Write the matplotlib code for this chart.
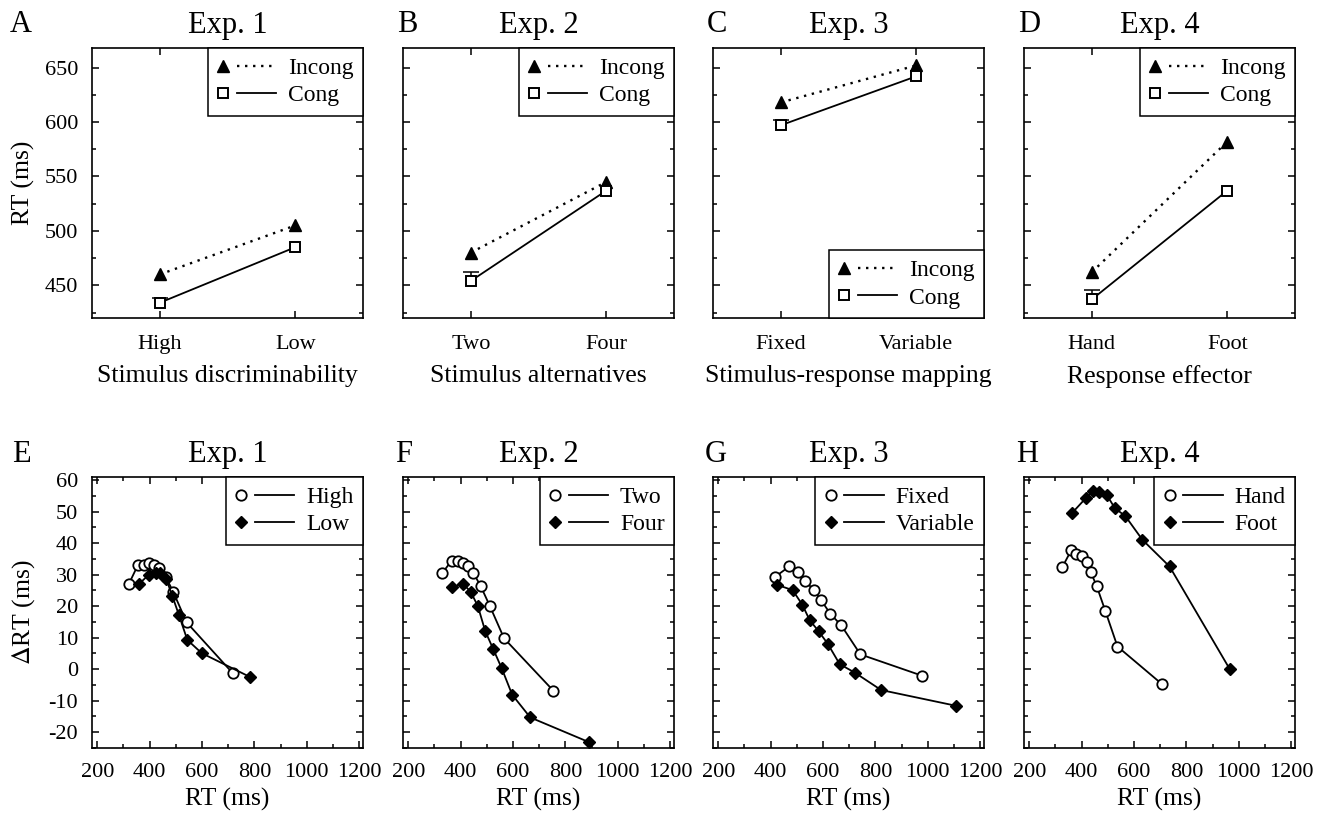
import numpy as np
import matplotlib
matplotlib.use("Agg")
import matplotlib.pyplot as plt
from matplotlib.lines import Line2D
from matplotlib.legend_handler import HandlerBase
from matplotlib.ticker import MultipleLocator

plt.rcParams['font.family'] = ['Liberation Serif', 'DejaVu Serif']
plt.rcParams['mathtext.fontset'] = 'stix'
plt.rcParams['axes.unicode_minus'] = False

# ---- top row: mean RT per condition ----
exps = ['Exp. 1', 'Exp. 2', 'Exp. 3', 'Exp. 4']
top_letters = ['A', 'B', 'C', 'D']
bot_letters = ['E', 'F', 'G', 'H']
levels = [['High', 'Low'], ['Two', 'Four'], ['Fixed', 'Variable'], ['Hand', 'Foot']]
factor_names = ['Stimulus discriminability', 'Stimulus alternatives',
                'Stimulus-response mapping', 'Response effector']
incong = [[460, 505], [480, 545], [618, 652], [462, 582]]
cong = [[434, 485], [454, 537], [597, 642], [437, 537]]
cong_err = [4, 8, 5, 9]   # upper error bar on first congruent point

# ---- bottom row: delta plots (RT quantile vs effect) ----
d1_rt = [[321, 355, 378, 396, 416, 436, 461, 490, 541, 718],
         [330, 366, 389, 408, 430, 449, 476, 512, 566, 754],
         [417, 471, 503, 533, 564, 593, 628, 670, 743, 980],
         [327, 360, 380, 401, 419, 435, 458, 491, 537, 708]]
d1_eff = [[27.1, 33.0, 33.2, 33.8, 33.0, 32.0, 29.4, 24.6, 14.9, -1.3],
          [30.5, 34.5, 34.5, 33.7, 32.9, 30.5, 26.5, 20.0, 9.8, -6.8],
          [29.3, 32.6, 30.8, 28.1, 25.1, 21.9, 17.6, 13.9, 4.7, -2.1],
          [32.5, 37.7, 36.5, 35.9, 34.0, 30.8, 26.3, 18.4, 7.2, -4.8]]
d2_rt = [[359, 397, 423, 440, 464, 487, 512, 544, 599, 782],
         [366, 410, 439, 466, 494, 524, 557, 597, 666, 892],
         [424, 484, 521, 549, 583, 618, 664, 722, 822, 1108],
         [365, 415, 442, 468, 497, 527, 567, 632, 736, 966]]
d2_eff = [[27.0, 30.0, 30.6, 30.5, 28.5, 23.2, 17.2, 9.3, 5.1, -2.4],
          [26.1, 27.1, 24.5, 20.0, 12.1, 6.5, 0.3, -8.1, -15.3, -23.2],
          [26.8, 25.1, 20.5, 15.6, 12.1, 8.1, 1.6, -1.1, -6.6, -11.6],
          [49.7, 54.2, 56.5, 56.2, 55.2, 51.1, 48.6, 41.1, 32.6, 0.0]]


class MarkerThenLine(HandlerBase):
    # legend handle: marker on the left, line segment to its right
    def create_artists(self, legend, orig_handle, xdescent, ydescent,
                       width, height, fontsize, trans):
        y = height / 2 - ydescent
        x0 = -xdescent
        mk = Line2D([x0 + 0.10 * width], [y])
        mk.update_from(orig_handle)
        mk.set_linestyle('none')
        ln = Line2D([x0 + 0.33 * width, x0 + width], [y, y])
        ln.update_from(orig_handle)
        ln.set_marker('')
        mk.set_transform(trans)
        ln.set_transform(trans)
        return [mk, ln]


W, H = 1322, 814
fig = plt.figure(figsize=(W / 100, H / 100), dpi=100)

lefts = [92, 403, 713, 1024]
aw = 271
top_y = (48, 318)
bot_y = (477, 748)


def px_axes(left, ytop, ybot):
    return fig.add_axes([left / W, 1 - ybot / H, aw / W, (ybot - ytop) / H])


def style(ax):
    for s in ax.spines.values():
        s.set_linewidth(1.2)
    ax.tick_params(which='both', direction='in', top=True, right=True,
                   width=1.1, labelsize=16, pad=10)
    ax.tick_params(which='major', length=5)
    ax.tick_params(which='minor', length=3)


dotted = (0, (1, 2.4))
leg_kw = dict(handler_map={Line2D: MarkerThenLine()}, fontsize=17,
              frameon=True, fancybox=False, edgecolor='black', framealpha=1,
              borderaxespad=0, handlelength=2.5, handletextpad=0.5,
              borderpad=0.4, labelspacing=0.25)

for i in range(4):
    ax = px_axes(lefts[i], *top_y)
    style(ax)
    x = np.arange(2)
    l1, = ax.plot(x, incong[i], linestyle=dotted, color='black', lw=1.7,
                  marker='^', ms=8.5, mfc='black', mec='black', zorder=3)
    l2, = ax.plot(x, cong[i], linestyle='-', color='black', lw=1.3,
                  marker='s', ms=7.5, mfc='white', mec='black', mew=1.4, zorder=3)
    e = cong_err[i]
    ax.vlines(x[0], cong[i][0], cong[i][0] + e, color='black', lw=1.1, zorder=2)
    ax.hlines(cong[i][0] + e, x[0] - 0.06, x[0] + 0.06, color='black', lw=1.1, zorder=2)
    ax.set_xlim(-0.5, 1.5)
    ax.set_ylim(420, 668)
    ax.set_xticks(x)
    ax.set_xticklabels(levels[i])
    ax.yaxis.set_major_locator(MultipleLocator(50))
    ax.yaxis.set_minor_locator(MultipleLocator(25))
    ax.tick_params(axis='x', pad=12)
    ax.set_xlabel(factor_names[i], fontsize=18.5, labelpad=8)
    if i == 0:
        ax.set_ylabel('RT (ms)', fontsize=18.5, labelpad=7)
    else:
        ax.set_yticklabels([])
    loc = 'lower right' if i == 2 else 'upper right'
    leg = ax.legend([l1, l2], ['Incong', 'Cong'], loc=loc, **leg_kw)
    leg.get_frame().set_linewidth(1.1)
    ax.set_title(exps[i], fontsize=22, pad=11)
    fig.text(lefts[i] / W - (82 if i == 0 else 6) / W, 1 - 32 / H, top_letters[i],
             fontsize=22, va='baseline', ha='left')

for i in range(4):
    ax = px_axes(lefts[i], *bot_y)
    style(ax)
    h1, = ax.plot(d1_rt[i], d1_eff[i], '-', color='black', lw=1.3,
                  marker='o', ms=7.5, mfc='white', mec='black', mew=1.3, zorder=3)
    h2, = ax.plot(d2_rt[i], d2_eff[i], '-', color='black', lw=1.3,
                  marker='D', ms=6, mfc='black', mec='black', zorder=3)
    ax.set_xlim(180, 1215)
    ax.set_ylim(-25, 61)
    ax.xaxis.set_major_locator(MultipleLocator(200))
    ax.xaxis.set_minor_locator(MultipleLocator(100))
    ax.yaxis.set_major_locator(MultipleLocator(10))
    ax.yaxis.set_minor_locator(MultipleLocator(5))
    ax.tick_params(axis='x', pad=11)
    ax.set_xlabel('RT (ms)', fontsize=18.5, labelpad=4)
    if i == 0:
        ax.set_ylabel(r'$\Delta$RT (ms)', fontsize=18.5, labelpad=8)
    else:
        ax.set_yticklabels([])
    leg = ax.legend([h1, h2], levels[i], loc='upper right', **leg_kw)
    leg.get_frame().set_linewidth(1.1)
    ax.set_title(exps[i], fontsize=22, pad=11)
    fig.text(lefts[i] / W - (80 if i == 0 else 8) / W, 1 - 462 / H, bot_letters[i],
             fontsize=22, va='baseline', ha='left')

fig.savefig('out.png', dpi=100)
